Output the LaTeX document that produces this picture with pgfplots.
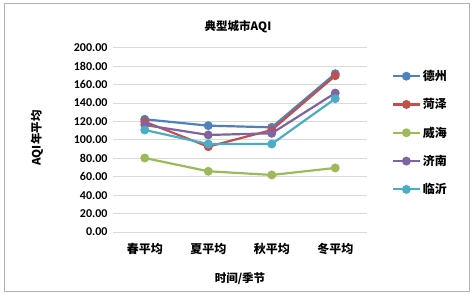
\documentclass[border=0pt]{standalone}
\usepackage{pgfplots}
\pgfplotsset{compat=1.18}
\usepackage{fontspec}
\setmainfont{Carlito}
\newfontfamily\cjk{Noto Sans CJK SC}
\definecolor{c1}{HTML}{4F81BD}
\definecolor{c2}{HTML}{C0504D}
\definecolor{c3}{HTML}{9BBB59}
\definecolor{c4}{HTML}{8064A2}
\definecolor{c5}{HTML}{4BACC6}
\definecolor{gridc}{HTML}{D9D9D9}
\begin{document}
\begin{tikzpicture}[x=1bp,y=1bp]
\useasboundingbox (0,0) rectangle (472,294);
\draw[color=black!30, line width=0.8bp] (4,3) rectangle (469,291);
\begin{axis}[
  at={(113bp,62bp)}, anchor=south west,
  scale only axis, width=254bp, height=184.3bp,
  xmin=-0.5, xmax=3.5, ymin=0, ymax=200,
  xtick={0,1,2,3},
  xticklabels={春平均,夏平均,秋平均,冬平均},
  ytick={0,20,...,200},
  yticklabel style={/pgf/number format/fixed, /pgf/number format/fixed zerofill, /pgf/number format/precision=2, /pgf/number format/assume math mode=true},
  yticklabel style={font=\fontsize{12bp}{14bp}\selectfont\bfseries, xshift=-2bp},
  xticklabel style={font=\cjk\fontsize{12bp}{14bp}\selectfont\bfseries, yshift=-8bp},
  axis line style={draw=none},
  major tick length=0pt,
  ymajorgrids, grid style={gridc, line width=0.8bp},
  clip=false,
  every axis plot/.append style={line width=2.2bp, mark=*, mark size=3.3bp},
  legend style={draw=none, fill=none, at={(1.085,0.9)}, anchor=north west,
    font=\cjk\fontsize{12bp}{14bp}\selectfont\bfseries, row sep=12.5bp,
    /tikz/every even column/.append style={column sep=2bp}},
  legend cell align=left,
  legend image code/.code={
    \draw[#1] (0bp,0bp) -- (27bp,0bp);
    \fill[#1] (13.5bp,0bp) circle (3.3bp);
  },
]
\addplot[color=c1] coordinates {(0,122.3) (1,115.4) (2,113.6) (3,171.8)};
\addplot[color=c2] coordinates {(0,119.7) (1,92.6) (2,110.7) (3,169.6)};
\addplot[color=c3] coordinates {(0,80.3) (1,65.9) (2,61.9) (3,69.5)};
\addplot[color=c4] coordinates {(0,116.1) (1,105.3) (2,107.1) (3,150.8)};
\addplot[color=c5] coordinates {(0,110.7) (1,95.5) (2,95.5) (3,144.7)};
\legend{德州,菏泽,威海,济南,临沂}
\end{axis}
\node[font=\cjk\fontsize{11.5bp}{14bp}\selectfont\bfseries] at (238,267) {典型城市AQI};
\node[font=\cjk\fontsize{11.5bp}{14bp}\selectfont\bfseries] at (240,15) {时间/季节};
\node[font=\cjk\fontsize{11.5bp}{14bp}\selectfont\bfseries, rotate=90] at (37,156) {AQI年平均};
\end{tikzpicture}
\end{document}
